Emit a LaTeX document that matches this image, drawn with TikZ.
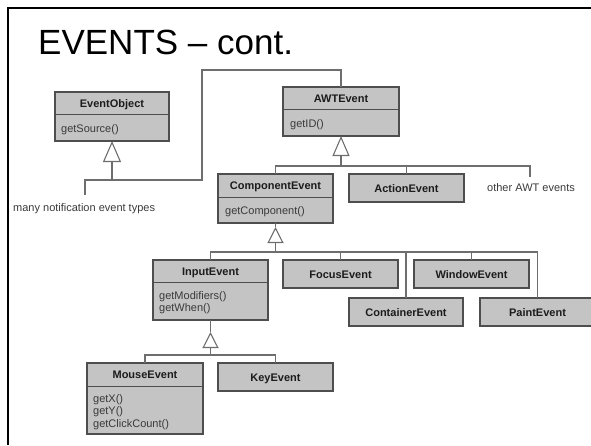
\documentclass[tikz,border=0pt]{standalone}
\usepackage{fontspec}
\setmainfont{Liberation Sans}
\usetikzlibrary{arrows.meta}

\definecolor{boxfill}{HTML}{C4C4C4}
\definecolor{boxline}{HTML}{4E4E4E}
\definecolor{wirecol}{HTML}{6E6E6E}
\definecolor{hdtext}{HTML}{1C1C1C}
\definecolor{optext}{HTML}{3A3A3A}

\tikzset{
  classbox/.style={draw=boxline, fill=boxfill, line width=1.1pt, inner sep=0pt,
                   outer sep=0pt, anchor=north west},
  divider/.style={draw=boxline, line width=0.9pt},
  hdlabel/.style={font=\fontsize{11}{13}\selectfont\bfseries, text=hdtext,
                  anchor=base, inner sep=0pt},
  oplabel/.style={font=\fontsize{11}{13}\selectfont, text=optext,
                  anchor=base west, inner sep=0pt},
  wire/.style={draw=wirecol, line width=1.1pt},
  inherit/.style n args={2}{wire, -{Triangle[open, length=#1pt, width=#2pt]}},
}

% class with a name compartment and an operations compartment
% #1 node name, #2 x, #3 y, #4 width, #5 height, #6 name-compartment height, #7 class name
\newcommand\umlclass[7]{%
  \node[classbox, minimum width=#4pt, minimum height=#5pt] (#1) at (#2,#3) {};
  \draw[divider] ([yshift=-#6pt]#1.north west) -- ([yshift=-#6pt]#1.north east);
  \pgfmathsetmacro\hdshift{-(#6/2+4)}%
  \node[hdlabel] (#1-name) at ([yshift=\hdshift pt]#1.north) {#7};
}
% class showing its name only
% #1 node name, #2 x, #3 y, #4 width, #5 class name
\newcommand\umlplain[5]{%
  \node[classbox, minimum width=#4pt, minimum height=28pt] (#1) at (#2,#3) {};
  \node[hdlabel] (#1-name) at ([yshift=-18pt]#1.north) {#5};
}

\begin{document}
\begin{tikzpicture}[x=1pt, y=-1pt]
\useasboundingbox (0,0) rectangle (591,445);

% slide frame and heading
\draw[line width=2.6pt, black] (8,445) -- (8,8) -- (591,8);
\node[anchor=base west, inner sep=0pt, font=\fontsize{35}{40}\selectfont] (heading)
  at (38,54) {EVENTS \textendash{} cont.};

% classes
\umlclass{EventObject}{55}{92}{114}{49}{22}{EventObject}
\node[oplabel] (EventObject-op1) at (61,132) {getSource()};

\umlclass{AWTEvent}{283}{87}{116}{49}{22}{AWTEvent}
\node[oplabel] (AWTEvent-op1) at (290,127) {getID()};

\umlclass{ComponentEvent}{218}{174}{115}{49}{23}{ComponentEvent}
\node[oplabel] (ComponentEvent-op1) at (225,214) {getComponent()};

\umlplain{ActionEvent}{349}{174}{115}{ActionEvent}

\umlclass{InputEvent}{153}{260}{115}{60}{22}{InputEvent}
\node[oplabel] (InputEvent-op1) at (159,299) {getModifiers()};
\node[oplabel] (InputEvent-op2) at (159,311.5) {getWhen()};

\umlplain{FocusEvent}{283}{260}{115}{FocusEvent}
\umlplain{WindowEvent}{414}{260}{115}{WindowEvent}
\umlplain{ContainerEvent}{349}{298}{114}{ContainerEvent}
\umlplain{PaintEvent}{480}{298}{115}{PaintEvent}

\umlclass{MouseEvent}{87}{363}{116}{71}{23}{MouseEvent}
\node[oplabel] (MouseEvent-op1) at (93,402) {getX()};
\node[oplabel] (MouseEvent-op2) at (93,414.5) {getY()};
\node[oplabel] (MouseEvent-op3) at (93,427) {getClickCount()};

\umlplain{KeyEvent}{218}{363}{115}{KeyEvent}

% free labels
\node[oplabel] (manyTypes) at (13,211) {many notification event types};
\node[oplabel] (otherAWT) at (487,191) {other AWT events};

% EventObject subclasses
\coordinate (eoJoin) at (112,180);
\coordinate (manyEnd) at (85,195);
\coordinate (busTop) at (202,70);
\draw[inherit={21}{18}] (eoJoin) -- (EventObject.south);
\draw[wire] (manyEnd) |- (eoJoin) -| (busTop) -| (AWTEvent.north);

% AWTEvent subclasses
\coordinate (awtJoin) at ([yshift=-30pt]AWTEvent.south);
\coordinate (otherEnd) at (530,177);
\draw[inherit={20}{17}] (awtJoin) -- (AWTEvent.south);
\draw[wire] (ComponentEvent.north) |- (awtJoin) -| (otherEnd);
\draw[wire] (ActionEvent.north) -- (ActionEvent.north |- awtJoin);

% ComponentEvent subclasses
\coordinate (compTip) at ([yshift=-4pt]ComponentEvent.south);
\coordinate (compJoin) at ([yshift=-29pt]ComponentEvent.south);
\draw[wire] (ComponentEvent.south) -- (compTip);
\draw[inherit={16}{16}] (compJoin) -- (compTip);
\draw[wire] (InputEvent.north) |- (compJoin) -| (PaintEvent.north);
\draw[wire] (FocusEvent.north) -- (FocusEvent.north |- compJoin);
\draw[wire] (ContainerEvent.north) -- (ContainerEvent.north |- compJoin);
\draw[wire] (WindowEvent.north) -- (WindowEvent.north |- compJoin);

% InputEvent subclasses
\coordinate (inTip) at ([yshift=-12pt]InputEvent.south);
\coordinate (inJoin) at ([yshift=-35pt]InputEvent.south);
\draw[wire] (InputEvent.south) -- (inTip);
\draw[inherit={16}{16}] (inJoin) -- (inTip);
\draw[wire] (MouseEvent.north) |- (inJoin) -| (KeyEvent.north);
\end{tikzpicture}
\end{document}
